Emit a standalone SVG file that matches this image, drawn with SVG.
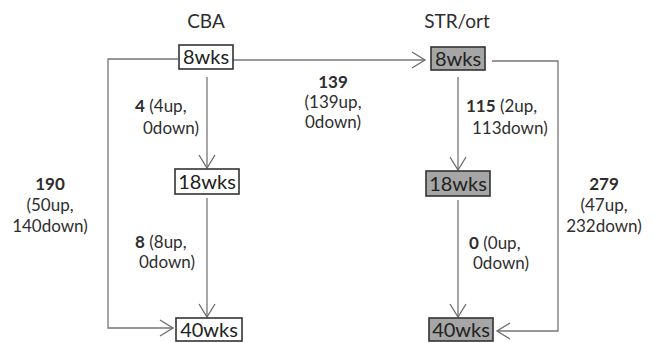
<svg xmlns="http://www.w3.org/2000/svg" width="654" height="343" viewBox="0 0 654 343">
  <defs>
    <marker id="arrowOpen" markerUnits="userSpaceOnUse" markerWidth="20" markerHeight="20" viewBox="-16 -10 20 20" refX="0" refY="0" orient="auto">
      <path d="M-13,-8 L0,0 L-13,8" fill="none" stroke="#6b6b6b" stroke-width="1.3"/>
    </marker>
  </defs>
  <style>
    text { font-family: Lato, "Open Sans", "Liberation Sans", sans-serif; fill: #2e2e2e; }
    .title { font-size: 19px; text-anchor: middle; }
    .node rect { stroke: #333333; stroke-width: 1.6; }
    .cba rect { fill: #ffffff; }
    .str rect { fill: #a6a6a6; }
    .node text { font-size: 20px; text-anchor: middle; fill: #222222; }
    .lbl { font-size: 17px; }
    .lbl .n { font-weight: bold; }
    .mid { text-anchor: middle; }
    .edge { fill: none; stroke: #767676; stroke-width: 1.3; marker-end: url(#arrowOpen); }
  </style>
  <rect width="654" height="343" fill="#ffffff"/>

  <!-- column headings -->
  <text class="title" x="206" y="28">CBA</text>
  <text class="title" x="457" y="28">STR/ort</text>

  <!-- connectors -->
  <g id="connectors">
    <path class="edge" d="M207,77 L207,168"/>
    <path class="edge" d="M207,198 L207,317"/>
    <path class="edge" d="M458,77 L458,170"/>
    <path class="edge" d="M458,200 L458,317"/>
    <path class="edge" d="M233,60 L425,60"/>
    <path class="edge" d="M178,59 L108,59 L108,328 L173,328"/>
    <path class="edge" d="M492,61 L558,61 L558,331 L497,331"/>
  </g>

  <!-- CBA nodes -->
  <g id="cba-8wks" class="node cba">
    <rect x="179" y="45" width="54" height="24"/>
    <text x="206" y="64">8wks</text>
  </g>
  <g id="cba-18wks" class="node cba">
    <rect x="175" y="169" width="64" height="25"/>
    <text x="207" y="188.5">18wks</text>
  </g>
  <g id="cba-40wks" class="node cba">
    <rect x="176" y="318" width="66" height="23"/>
    <text x="209" y="337">40wks</text>
  </g>

  <!-- STR/ort nodes -->
  <g id="str-8wks" class="node str">
    <rect x="431" y="47" width="54" height="23"/>
    <text x="458" y="65.5">8wks</text>
  </g>
  <g id="str-18wks" class="node str">
    <rect x="426" y="171" width="64" height="25"/>
    <text x="458" y="190.5">18wks</text>
  </g>
  <g id="str-40wks" class="node str">
    <rect x="429" y="318" width="64" height="23"/>
    <text x="461" y="337">40wks</text>
  </g>

  <!-- connector labels -->
  <g id="labels" class="lbl">
    <text class="mid" x="333" y="88"><tspan class="n">139</tspan></text>
    <text class="mid" x="333" y="108">(139up,</text>
    <text class="mid" x="333" y="128">0down)</text>

    <text x="135" y="112"><tspan class="n">4</tspan> (4up,</text>
    <text x="143" y="134">0down)</text>

    <text x="466" y="112"><tspan class="n">115</tspan> (2up,</text>
    <text x="472" y="134">113down)</text>

    <text x="135" y="248"><tspan class="n">8</tspan> (8up,</text>
    <text x="139" y="268">0down)</text>

    <text x="469" y="249"><tspan class="n">0</tspan> (0up,</text>
    <text x="473" y="269">0down)</text>

    <text class="mid" x="50" y="190"><tspan class="n">190</tspan></text>
    <text class="mid" x="50" y="211">(50up,</text>
    <text class="mid" x="50" y="232">140down)</text>

    <text class="mid" x="604" y="190"><tspan class="n">279</tspan></text>
    <text class="mid" x="604" y="211">(47up,</text>
    <text class="mid" x="604" y="232">232down)</text>
  </g>
</svg>
